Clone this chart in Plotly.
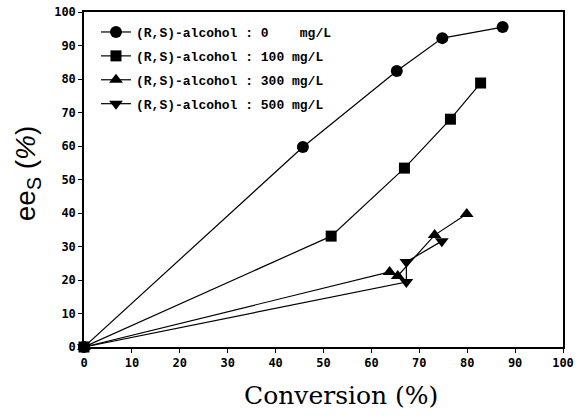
import plotly.graph_objects as go

NB = "\u00a0"
names = [
    "(R,S)-alcohol : 0" + NB * 4 + "mg/L",
    "(R,S)-alcohol : 100 mg/L",
    "(R,S)-alcohol : 300 mg/L",
    "(R,S)-alcohol : 500 mg/L",
]
x0 = [0, 45.7, 65.3, 74.8, 87.4]
y0 = [0, 59.7, 82.4, 92.2, 95.5]
x100 = [0, 51.6, 66.9, 76.5, 82.8]
y100 = [0, 33.1, 53.4, 68.0, 78.8]
x300 = [0, 63.8, 65.5, 73.2, 79.9]
y300 = [0, 22.4, 21.2, 33.4, 39.7]
x500 = [0, 67.3, 67.3, 74.7]
y500 = [0, 19.4, 25.4, 31.6]
xs = [x0, x100, x300, x500]
ys = [y0, y100, y300, y500]
symbols = ["circle", "square", "triangle-up", "triangle-down"]
sizes = [12, 11, 12, 12]
x_ticks = list(range(0, 101, 10))
y_ticks = list(range(0, 101, 10))
x_title = "Conversion (%)"
y_title = "ee<sub>S</sub> (<i>%</i>)"

fig = go.Figure()
for i, (n, x, y, s, sz) in enumerate(zip(names, xs, ys, symbols, sizes)):
    fig.add_trace(go.Scatter(
        x=x, y=y, name=n, mode="lines+markers", legendgroup=f"g{i}",
        line=dict(color="black", width=1.2),
        marker=dict(symbol=s, size=sz, color="black"),
        cliponaxis=False,
    ))

axis_common = dict(
    showgrid=False, zeroline=False, showline=True, linecolor="black", linewidth=1.5,
    mirror=True, ticks="outside", ticklen=4, tickcolor="black", automargin=False,
    tickfont=dict(family="DejaVu Sans Mono", size=12, color="black", weight="bold"),
)
fig.update_xaxes(range=[0, 100], tickvals=x_ticks, **axis_common)
fig.update_yaxes(range=[0, 100], tickvals=y_ticks, **axis_common)

fig.add_annotation(text=x_title, xref="paper", yref="paper", x=0.537, y=-0.145,
                   xanchor="center", yanchor="middle", showarrow=False,
                   font=dict(family="DejaVu Serif", size=25, color="black"))
fig.add_annotation(text=y_title, xref="paper", yref="paper", x=-0.118, y=0.52,
                   xanchor="center", yanchor="middle", showarrow=False, textangle=-90,
                   font=dict(family="Liberation Sans", size=28, color="black"))

fig.update_layout(
    width=582, height=416,
    margin=dict(l=84, r=19, t=12, b=69),
    plot_bgcolor="white", paper_bgcolor="white",
    showlegend=True,
    legend=dict(x=0.025, y=0.985, xanchor="left", yanchor="top",
                font=dict(family="Liberation Mono", size=13, color="black", weight="bold"),
                bgcolor="rgba(255,255,255,0)", tracegroupgap=4),
)
fig.write_html("out.html", config={"displayModeBar": False},
               post_script="document.body.style.margin='0';document.documentElement.style.overflow='hidden';")
